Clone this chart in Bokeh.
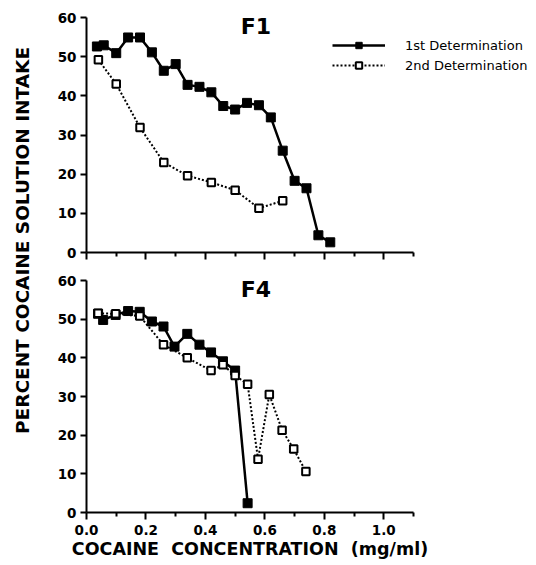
import math
from bokeh.plotting import figure
from bokeh.layouts import row, column
from bokeh.models import Range1d, FixedTicker, Label, Legend, LegendItem
from bokeh.embed import file_html
from bokeh.resources import INLINE

# ---------------- data ----------------
f1_first_x = [0.035, 0.058, 0.10, 0.14, 0.18, 0.22, 0.26, 0.30, 0.34, 0.38, 0.42,
              0.46, 0.50, 0.54, 0.58, 0.62, 0.66, 0.70, 0.74, 0.78, 0.82]
f1_first_y = [52.6, 52.9, 50.9, 54.9, 54.9, 51.1, 46.4, 48.1, 42.8, 42.3, 40.9,
              37.4, 36.5, 38.2, 37.6, 34.5, 26.0, 18.3, 16.4, 4.4, 2.6]
f1_second_x = [0.04, 0.10, 0.18, 0.26, 0.34, 0.42, 0.50, 0.58, 0.66]
f1_second_y = [49.2, 43.0, 31.9, 23.0, 19.6, 17.9, 15.9, 11.3, 13.2]

f4_first_x = [0.039, 0.056, 0.098, 0.14, 0.179, 0.22, 0.259, 0.296, 0.339, 0.38,
              0.419, 0.459, 0.50, 0.542]
f4_first_y = [51.4, 49.8, 51.1, 52.1, 51.9, 49.4, 48.1, 42.9, 46.2, 43.4,
              41.4, 39.1, 36.7, 2.4]
f4_second_x = [0.039, 0.098, 0.179, 0.259, 0.339, 0.419, 0.459, 0.50, 0.542,
               0.577, 0.615, 0.658, 0.697, 0.738]
f4_second_y = [51.5, 51.4, 50.8, 43.4, 40.0, 36.7, 38.2, 35.4, 33.2,
               13.8, 30.5, 21.3, 16.4, 10.6]

x_major_ticks = [0.0, 0.2, 0.4, 0.6, 0.8, 1.0]
x_tick_labels = ["0.0", "0.2", "0.4", "0.6", "0.8", "1.0"]
x_minor_ticks = [0.1, 0.3, 0.5, 0.7, 0.9, 1.1]
y_ticks = [0, 10, 20, 30, 40, 50, 60]

series_names = ["1st Determination", "2nd Determination"]
panel_titles = ["F1", "F4"]
x_label = "COCAINE\u00a0\u00a0CONCENTRATION\u00a0\u00a0(mg/ml)"
y_label = "PERCENT COCAINE SOLUTION INTAKE"

FONT = "DejaVu Sans"


def make_panel(title, x1, y1, x2, y2, frame_w, x_end, frame_h, top_b, bottom_b,
               right_b, show_xlabels, legend):
    p = figure(frame_width=frame_w, frame_height=frame_h,
               x_range=Range1d(0, x_end), y_range=Range1d(0, 60),
               output_backend="svg", toolbar_location=None,
               min_border_left=38, min_border_right=right_b,
               min_border_top=top_b, min_border_bottom=bottom_b)
    p.outline_line_color = None
    p.xgrid.grid_line_color = None
    p.ygrid.grid_line_color = None
    p.background_fill_color = "white"
    p.border_fill_color = "white"

    # axes
    for ax in (p.xaxis[0], p.yaxis[0]):
        ax.axis_line_width = 2
        ax.axis_line_color = "black"
        ax.major_tick_line_width = 2
        ax.minor_tick_line_width = 2
        ax.major_tick_in = 0
        ax.minor_tick_in = 0
        ax.major_label_text_font = FONT
        ax.major_label_text_font_style = "bold"
        ax.major_label_text_font_size = "13.5px"
        ax.major_label_text_color = "black"
    p.xaxis.bounds = (0, 1.1)
    p.xaxis.ticker = FixedTicker(ticks=x_major_ticks, minor_ticks=x_minor_ticks)
    p.xaxis.major_label_overrides = {t: l for t, l in zip(x_major_ticks, x_tick_labels)}
    p.xaxis.major_tick_out = 7
    p.xaxis.minor_tick_out = 4
    p.xaxis.major_label_standoff = 5
    p.yaxis.ticker = FixedTicker(ticks=y_ticks, minor_ticks=[])
    p.yaxis.major_tick_out = 6
    p.yaxis.major_label_standoff = 4
    if show_xlabels:
        p.xaxis.axis_label = x_label
        p.xaxis.axis_label_text_font = FONT
        p.xaxis.axis_label_text_font_style = "bold"
        p.xaxis.axis_label_text_font_size = "17.5px"
        p.xaxis.axis_label_text_color = "black"
        p.xaxis.axis_label_standoff = 1
    else:
        p.xaxis.major_label_text_color = None

    # series
    l1 = p.line(x1, y1, line_color="black", line_width=2.5)
    s1 = p.scatter(x1, y1, marker="square", size=9, fill_color="black",
                   line_color="black", line_width=1)
    l2 = p.line(x2, y2, line_color="black", line_width=2, line_dash="2 2")
    s2 = p.scatter(x2, y2, marker="square", size=7.5, fill_color="white",
                   line_color="black", line_width=2)

    p.add_layout(Label(x=0.57, y=60, y_offset=4, text=title, text_align="center",
                       text_baseline="top", text_font=FONT,
                       text_font_style="bold", text_font_size="22px",
                       text_color="black"))

    if legend:
        lg = Legend(items=[LegendItem(label=series_names[0], renderers=[l1, s1]),
                           LegendItem(label=series_names[1], renderers=[l2, s2])],
                    location=(246, 179), padding=0, spacing=4, margin=0,
                    glyph_width=53, glyph_height=16, label_standoff=20,
                    border_line_color=None, background_fill_alpha=0,
                    label_text_font=FONT, label_text_font_size="13px",
                    label_text_color="black")
        p.add_layout(lg)
    return p


top = make_panel(panel_titles[0], f1_first_x, f1_first_y, f1_second_x, f1_second_y,
                 448, 1.507, 235, 17, 16, 0, False, True)
bot = make_panel(panel_titles[1], f4_first_x, f4_first_y, f4_second_x, f4_second_y,
                 327, 1.1, 232, 12, 45, 121, True, False)

total_h = 17 + 235 + 16 + 12 + 232 + 45
lab = figure(width=48, height=total_h, x_range=Range1d(0, 48),
             y_range=Range1d(0, total_h), output_backend="svg",
             toolbar_location=None, min_border=0)
lab.axis.visible = False
lab.grid.grid_line_color = None
lab.outline_line_color = None
lab.add_layout(Label(x=21.5, y=total_h - 240, x_units="screen", y_units="screen",
                     text=y_label, angle=math.pi / 2, text_align="center",
                     text_baseline="middle", text_font=FONT,
                     text_font_style="bold", text_font_size="18.5px",
                     text_color="black"))

layout = row(lab, column(top, bot, spacing=0), spacing=0)

with open("out.html", "w") as f:
    f.write(file_html(layout, INLINE))
